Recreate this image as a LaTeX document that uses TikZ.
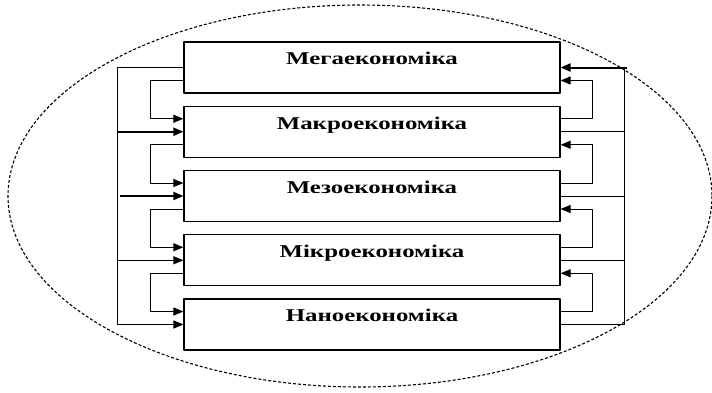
\documentclass[tikz,border=0pt]{standalone}
\usepackage{fontspec}
\setmainfont{Liberation Serif}
\usetikzlibrary{arrows.meta}
\tikzset{
  econbox/.style={draw, line width=1.2pt, minimum width=376pt, minimum height=51pt,
    text height=11.5pt, text depth=17pt, font=\bfseries\fontsize{18}{21}\selectfont},
  link/.style={line width=1pt},
  arr/.style={link, -{Triangle[length=10pt,width=8pt]}},
  thickarr/.style={arr, line width=2pt}
}
\begin{document}
\begin{tikzpicture}[x=1pt, y=-1pt, line join=round]
			\useasboundingbox (0,0) rectangle (712,392);
			\draw[line width=1.1pt, dash pattern=on 3pt off 2pt] (360,196) ellipse (352 and 191);
			% levels
			\foreach \name/\txt [count=\i] in {mega/Мегаекономіка, makro/Макроекономіка, mezo/Мезоекономіка, mikro/Мікроекономіка, nano/Наноекономіка}
			\node[econbox] (\name) at (372,{67.5+64.25*(\i-1)}) {\scalebox{1.38}[1]{\txt}};
			\coordinate (lbus) at (117,0);
			\coordinate (rbus) at (624,0);
			% left bus, top down
			\draw[arr] (mega.west) -- (lbus |- mega.west) |- (nano.west);
			\draw[thickarr] (lbus |- makro.west) -- (makro.west);
			\draw[thickarr] ([xshift=3pt]lbus |- mezo.west) -- (mezo.west);
			\draw[arr] (lbus |- mikro.west) -- (mikro.west);
			% right bus, bottom up
			\draw[link] (nano.east) -| (rbus |- mega.east);
			\draw[thickarr] ([xshift=3pt]rbus |- mega.east) -- (mega.east);
			\foreach \n in {makro,mezo,mikro}
			\draw[link] (\n.east) -- (rbus |- \n.east);
			% loops between neighbours
			\foreach \up/\down in {mega/makro, makro/mezo, mezo/mikro, mikro/nano}{
				\draw[arr] ([yshift=-13pt]\up.west) -- ++(-33,0) |- ([yshift=13pt]\down.west);
				\draw[arr] ([yshift=13pt]\down.east) -- ++(32,0) |- ([yshift=-13pt]\up.east);
			}
		\end{tikzpicture}
\end{document}
